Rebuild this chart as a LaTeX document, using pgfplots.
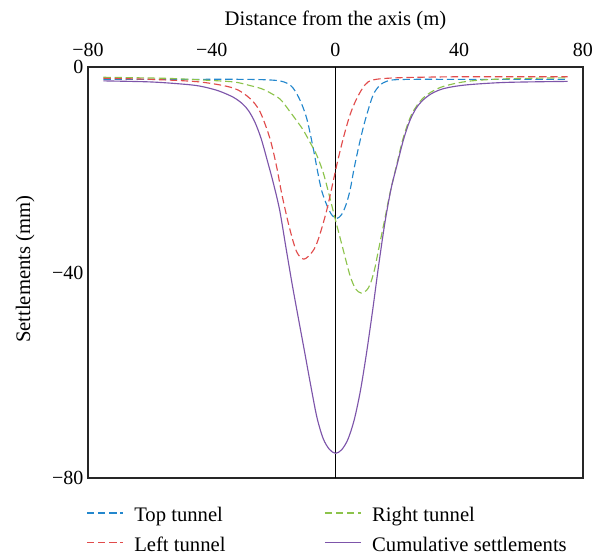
\documentclass[border=0pt]{standalone}
\usepackage{fontspec}
\setmainfont{Liberation Serif}
\usepackage{pgfplots}
\pgfplotsset{compat=1.18}
\definecolor{ctop}{RGB}{35,135,205}
\definecolor{cleft}{RGB}{225,75,75}
\definecolor{cright}{RGB}{140,195,75}
\definecolor{ccum}{RGB}{125,85,170}
\begin{document}
\begin{tikzpicture}
\useasboundingbox (-66pt,-58.5pt) rectangle (378.75pt,358.5pt);
\begin{axis}[
  at={(0,0)}, anchor=south west,
  scale only axis, width=371.25pt, height=308.25pt,
  xmin=-80, xmax=80, ymin=-80, ymax=0,
  xtick={-80,-40,0,40,80}, xticklabels={−80,−40,0,40,80},
  ytick={-80,-40,0}, yticklabels={−80,−40,0},
  xticklabel pos=upper,
  major tick length=0pt,
  axis line style={line width=0.9pt, black!85},
  tick label style={font=\fontsize{15}{17}\selectfont},
  xticklabel style={yshift=4pt},
  xlabel={Distance from the axis (m)},
  ylabel={Settlements (mm)},
  label style={font=\fontsize{15.5}{18}\selectfont},
  xlabel style={at={(axis description cs:0.5,1.114)}, anchor=center},
  ylabel style={at={(axis description cs:-0.127,0.508)}, anchor=center},
  legend columns=2,
  legend style={at={(axis description cs:-0.012,-0.057)}, anchor=north west, draw=none, fill=none,
    font=\fontsize{15.5}{18}\selectfont,
    nodes={text height=11pt, text depth=4pt},
    row sep=3pt,
    /tikz/every even column/.append style={column sep=72pt}},
  legend cell align=left,
  legend image code/.code={\draw[#1, line width=1.1pt] (0pt,3pt) -- (27pt,3pt); \path (33pt,0pt);},
]
\addplot[black, line width=0.8pt, forget plot] coordinates {(0,0) (0,-80)};
% Top tunnel
\addplot[draw=ctop, line width=0.85pt, dash pattern=on 5.5pt off 2.8pt, smooth] coordinates {
(-75,-2.4) (-50,-2.4) (-30,-2.4) (-22,-2.5) (-18,-2.7) (-15.5,-3.2) (-13.7,-4.1)
(-11.5,-6.4) (-9.3,-10) (-7.2,-15.8) (-5.8,-20.3) (-4.5,-24.0) (-2.8,-26.9)
(-1.2,-28.8) (0.4,-29.5) (2,-28.7) (3.4,-26.8) (4.7,-24.0) (6,-19.8) (7.4,-15.8)
(8.8,-12.2) (10.1,-9.3) (12.2,-5.4) (14.4,-3.5) (16.5,-2.8) (18.7,-2.5) (25,-2.4)
(40,-2.4) (75,-2.4)};
\addlegendentry{Top tunnel}
% Right tunnel
\addplot[draw=cright, line width=0.85pt, dash pattern=on 5.5pt off 2.8pt, smooth] coordinates {
(-75,-2.0) (-55,-2.2) (-44,-2.5) (-33,-2.9) (-27.7,-3.6) (-24,-4.2) (-21.5,-4.9) (-18,-6.2)
(-15.8,-7.8) (-14.7,-8.7) (-12.5,-10.5) (-10.4,-12.3) (-8.2,-14.7) (-6.1,-17.1)
(-4,-20.5) (-2.3,-24.3) (0,-29.8) (2.5,-35.6) (4.7,-40.6) (6.5,-43.2) (8.3,-44.0)
(10,-43.5) (11.2,-42.3) (12.6,-39.5) (13.9,-35.6) (15.8,-30) (17.6,-24.6)
(19.8,-19) (21.9,-13.8) (24.7,-9.1) (28.4,-6.0) (33.8,-4.0) (42.5,-2.8) (55,-2.3)
(75,-2.1)};
\addlegendentry{Right tunnel}
% Left tunnel
\addplot[draw=cleft, line width=0.85pt, dash pattern=on 5.5pt off 2.8pt, smooth] coordinates {
(-75,-2.2) (-60,-2.4) (-44,-2.9) (-33,-4.1) (-27.7,-6.1) (-24.4,-8.7) (-21.2,-13.9)
(-19,-19.5) (-17.4,-24.6) (-15,-31) (-12.6,-35.9) (-10.2,-37.4) (-7.4,-35.9)
(-5.6,-33.6) (-2.8,-27.8) (0.4,-19.1) (2.5,-13.9) (4.7,-9.3) (6.9,-6.1) (9.5,-3.5)
(12.2,-2.5) (20,-2.1) (40,-1.9) (75,-1.9)};
\addlegendentry{Left tunnel}
% Cumulative
\addplot[draw=ccum, line width=0.85pt, smooth] coordinates {
(-75,-2.7) (-60,-2.9) (-50,-3.3) (-44,-3.7) (-38,-4.6) (-33,-5.9) (-30,-7.2)
(-28,-8.6) (-26,-10.8) (-24,-14.0) (-22,-18.3) (-20,-22.8) (-18,-28.0) (-16,-35.2)
(-14,-42.3) (-12,-48.9) (-10,-55.4) (-8,-62.0) (-6,-68.2) (-4,-72.3) (-2,-74.4)
(0,-75.2) (2,-74.5) (4,-72.5) (6,-68.8) (8,-63.2) (10,-55.8) (12,-47.4) (14,-38.4)
(16,-30.2) (18,-23.6) (20,-18.8) (22,-14.1) (24,-10.5) (26,-8.1) (28,-6.6)
(31,-5.2) (35,-4.2) (42,-3.5) (55,-3.0) (75,-2.8)};
\addlegendentry{Cumulative settlements}
\end{axis}
\end{tikzpicture}
\end{document}
